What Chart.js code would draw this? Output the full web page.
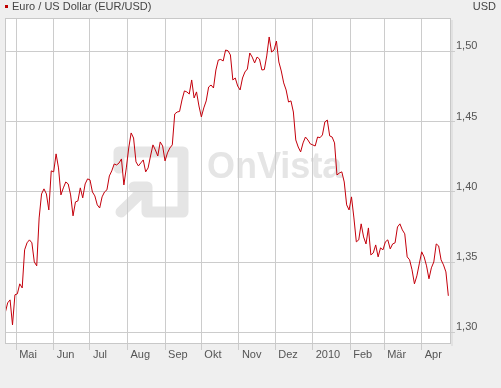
<!DOCTYPE html>
<html>
<head>
<meta charset="utf-8">
<script src="https://cdn.jsdelivr.net/npm/chart.js@4.4.1/dist/chart.umd.min.js"></script>
<style>
  html, body { margin: 0; padding: 0; background: #efefef; }
  canvas { display: block; }
</style>
</head>
<body>
<canvas id="chart" width="501" height="388"></canvas>
<script>
// EUR/USD, one reading every 2 days starting 22 Apr 2009
var startDate = '2009-04-22';
var stepDays = 2;
var rates = [
    1.3139, 1.3210, 1.3231, 1.3053, 1.3267, 1.3274, 1.3345, 1.3316, 1.3587, 1.3637,
    1.3658, 1.3637, 1.3501, 1.3473, 1.3814, 1.3985, 1.4021, 1.3985, 1.3871, 1.4149,
    1.4142, 1.4270, 1.4170, 1.3978, 1.4028, 1.4070, 1.4056, 1.3978, 1.3829, 1.3928,
    1.3935, 1.4028, 1.3957, 1.4056, 1.4092, 1.4085, 1.3999, 1.3971, 1.3907, 1.3885,
    1.3964, 1.3999, 1.4014, 1.4113, 1.4149, 1.4198, 1.4191, 1.4205, 1.4234, 1.4049,
    1.4170, 1.4312, 1.4419, 1.4383, 1.4213, 1.4184, 1.4206, 1.4227, 1.4142, 1.4170,
    1.4255, 1.4334, 1.4298, 1.4255, 1.4355, 1.4326, 1.4220, 1.4277, 1.4312, 1.4334,
    1.4554, 1.4568, 1.4572, 1.4654, 1.4718, 1.4711, 1.4696, 1.4796, 1.4668, 1.4711,
    1.4611, 1.4533, 1.4597, 1.4647, 1.4746, 1.4760, 1.4739, 1.4867, 1.4938, 1.4942,
    1.4931, 1.5009, 1.5004, 1.4974, 1.4796, 1.4810, 1.4753, 1.4725, 1.4810, 1.4853,
    1.4874, 1.4988, 1.4959, 1.4917, 1.4959, 1.4945, 1.4867, 1.4870, 1.4967, 1.5102,
    1.4995, 1.5009, 1.5073, 1.4924, 1.4860, 1.4775, 1.4725, 1.4639, 1.4647, 1.4568,
    1.4369, 1.4319, 1.4284, 1.4348, 1.4390, 1.4369, 1.4341, 1.4334, 1.4326, 1.4390,
    1.4385, 1.4405, 1.4497, 1.4511, 1.4398, 1.4390, 1.4348, 1.4120, 1.4134, 1.4142,
    1.4070, 1.3907, 1.3871, 1.3964, 1.3814, 1.3644, 1.3658, 1.3772, 1.3679, 1.3629,
    1.3743, 1.3551, 1.3565, 1.3622, 1.3537, 1.3601, 1.3587, 1.3644, 1.3658, 1.3594,
    1.3629, 1.3637, 1.3750, 1.3772, 1.3729, 1.3701, 1.3537, 1.3516, 1.3445, 1.3345,
    1.3402, 1.3487, 1.3573, 1.3537, 1.3473, 1.3381, 1.3459, 1.3501, 1.3629, 1.3615,
    1.3516, 1.3480, 1.3430, 1.3260
];
var monthStarts = ['2009-05-01', '2009-06-01', '2009-07-01', '2009-08-01', '2009-09-01', '2009-10-01',
    '2009-11-01', '2009-12-01', '2010-01-01', '2010-02-01', '2010-03-01', '2010-04-01'];
var monthLabels = ['Mai', 'Jun', 'Jul', 'Aug', 'Sep', 'Okt', 'Nov', 'Dez', '2010', 'Feb', 'M\u00e4r', 'Apr'];
var yTicks = [1.30, 1.35, 1.40, 1.45, 1.50];
var xRange = ['2009-04-22', '2010-04-25'];
var yRange = [1.2917, 1.5237];

var FONT = 'Arial, "Liberation Sans", Helvetica, sans-serif';

// days counted from 1 May 2009
function dayNo(s) {
    var p = s.split('-');
    return (Date.UTC(+p[0], +p[1] - 1, +p[2]) - Date.UTC(2009, 4, 1)) / 86400000;
}

var firstDay = dayNo(startDate);
var points = rates.map(function(r, i) {
    return { x: firstDay + i * stepDays, y: r };
});
var monthDays = monthStarts.map(dayNo);

var frame = {
    id: 'frame',
    beforeDraw: function(chart) {
        var c = chart.ctx, a = chart.chartArea;
        c.save();
        c.fillStyle = '#efefef';
        c.fillRect(0, 0, chart.width, chart.height);
        // soft shadow right / bottom
        c.fillStyle = '#e2e2e2';
        c.fillRect(a.right, a.top + 2, 2, a.bottom - a.top);
        c.fillStyle = '#ffffff';
        c.fillRect(a.left, a.top, a.right - a.left, a.bottom - a.top);

        // watermark
        c.strokeStyle = '#e5e5e5';
        c.lineWidth = 11;
        c.lineJoin = 'round';
        c.lineCap = 'round';
        c.beginPath();
        c.moveTo(119, 168);
        c.lineTo(119, 152);
        c.lineTo(183, 152);
        c.lineTo(183, 212);
        c.lineTo(147, 212);
        c.lineTo(147, 187);
        c.lineTo(134, 187);
        c.moveTo(147, 187);
        c.lineTo(121, 212);
        c.stroke();
        c.fillStyle = '#e5e5e5';
        c.font = 'bold 36px ' + FONT;
        c.textBaseline = 'alphabetic';
        c.fillText('OnVista', 207, 178);

        // title
        c.fillStyle = '#c00000';
        c.fillRect(5, 5, 3, 3);
        c.fillStyle = '#444444';
        c.font = '11px ' + FONT;
        c.textAlign = 'left';
        c.fillText('Euro / US Dollar (EUR/USD)', 12, 10);
        c.textAlign = 'right';
        c.fillText('USD', 496, 10);
        c.restore();
    },
    afterDraw: function(chart) {
        var c = chart.ctx, a = chart.chartArea;
        c.save();
        c.strokeStyle = '#c8c8c8';
        c.lineWidth = 1;
        c.strokeRect(a.left + 0.5, a.top + 0.5, a.right - a.left - 1, a.bottom - a.top - 1);
        c.restore();
    }
};

new Chart(document.getElementById('chart').getContext('2d'), {
    type: 'line',
    data: {
        datasets: [{
            label: 'Euro / US Dollar (EUR/USD)',
            data: points,
            borderColor: '#c4000b',
            borderWidth: 1,
            pointRadius: 0,
            tension: 0,
            fill: false
        }]
    },
    options: {
        responsive: false,
        animation: false,
        devicePixelRatio: 1,
        layout: { padding: { left: 5, top: 18, right: 0, bottom: 0 } },
        plugins: {
            legend: { display: false },
            tooltip: { enabled: false }
        },
        scales: {
            x: {
                type: 'linear',
                min: dayNo(xRange[0]) - 0.2,
                max: dayNo(xRange[1]) + 0.2,
                afterBuildTicks: function(axis) {
                    axis.ticks = monthDays.map(function(v) { return { value: v }; });
                },
                afterFit: function(axis) { axis.height = 44; },
                border: { display: false },
                grid: { color: '#cccccc', lineWidth: 1, drawTicks: true, tickLength: 6 },
                ticks: {
                    autoSkip: false,
                    maxRotation: 0,
                    align: 'start',
                    labelOffset: 3,
                    padding: -2,
                    color: '#555555',
                    font: { family: FONT, size: 11 },
                    callback: function(value, index) { return monthLabels[index]; }
                }
            },
            y: {
                position: 'right',
                min: yRange[0],
                max: yRange[1],
                afterBuildTicks: function(axis) {
                    axis.ticks = yTicks.map(function(v) { return { value: v }; });
                },
                afterFit: function(axis) { axis.width = 50; },
                border: { display: false },
                grid: { color: '#cccccc', lineWidth: 1, drawTicks: true, tickLength: 4 },
                ticks: {
                    padding: 1,
                    labelOffset: -5,
                    color: '#555555',
                    font: { family: FONT, size: 11 },
                    callback: function(value) { return value.toFixed(2).replace('.', ','); }
                }
            }
        }
    },
    plugins: [frame]
});
</script>
</body>
</html>
